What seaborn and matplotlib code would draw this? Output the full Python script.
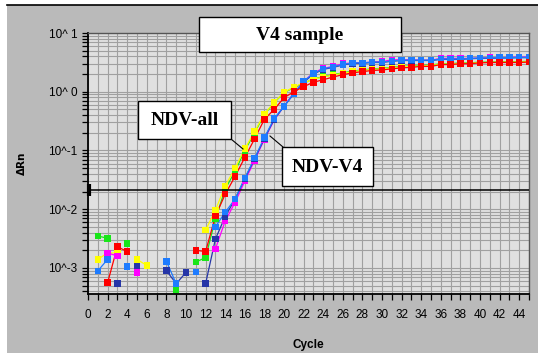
import numpy as np
import pandas as pd
import matplotlib
matplotlib.use("Agg")
import matplotlib.pyplot as plt
import matplotlib.ticker as mticker
from matplotlib.patches import Rectangle
from matplotlib.lines import Line2D
import seaborn as sns

nan = np.nan
cycles = list(range(1, 46))

green = [3.5e-3, 3.2e-3, nan, 2.6e-3, nan, nan, nan, nan, 4.2e-4, nan,
         1.26e-3, 1.5e-3, 6.8e-3, 0.022, 0.044, 0.10, 0.20, 0.41, 0.65, 0.97,
         1.17, 1.4, 1.65, 1.8, 1.95, 2.1, 2.25, 2.35, 2.45, 2.5,
         2.6, 2.7, 2.75, 2.8, 2.85, 3.0, 3.0, 3.1, 3.1, 3.2,
         3.2, 3.25, 3.25, 3.25, 3.3]
yellow = [1.4e-3, 1.8e-3, 1.8e-3, nan, 1.4e-3, 1.1e-3, nan, nan, nan, nan,
          nan, 4.4e-3, 9.6e-3, 0.025, 0.05, 0.107, 0.21, 0.42, 0.66, 0.98,
          1.2, 1.42, 1.62, 1.78, 1.92, 2.05, 2.2, 2.3, 2.4, 2.45,
          2.55, 2.65, 2.7, 2.75, 2.8, 2.95, 2.95, 3.05, 3.05, 3.15,
          3.15, 3.2, 3.2, 3.2, 3.25]
red = [nan, 5.6e-4, 2.3e-3, 1.9e-3, nan, nan, nan, nan, nan, nan,
       2.0e-3, 1.9e-3, 7.6e-3, 0.018, 0.036, 0.076, 0.158, 0.34, 0.5, 0.79,
       1.0, 1.22, 1.45, 1.6, 1.78, 1.95, 2.1, 2.2, 2.3, 2.35,
       2.45, 2.55, 2.6, 2.7, 2.7, 2.9, 2.9, 3.0, 3.0, 3.1,
       3.15, 3.15, 3.15, 3.15, 3.2]
magenta = [nan, 1.8e-3, 1.6e-3, nan, 8.3e-4, nan, nan, nan, nan, nan,
           nan, nan, 2.1e-3, 6.3e-3, 0.013, 0.03, 0.068, 0.155, 0.33, 0.57,
           0.95, 1.5, 2.1, 2.5, 2.7, 3.0, 3.1, 3.1, 3.2, 3.25,
           3.5, 3.5, 3.5, 3.45, 3.45, 3.7, 3.7, 3.7, 3.7, 3.75,
           3.8, 3.8, 3.85, 3.9, 3.9]
darkblue = [nan, nan, 5.4e-4, nan, 1.07e-3, nan, nan, 9.0e-4, 5.4e-4, 8.4e-4,
            nan, 5.4e-4, 3.1e-3, 7.5e-3, 0.0148, 0.033, 0.072, 0.16, 0.34, 0.56,
            0.92, 1.45, 2.0, 2.4, 2.6, 2.85, 3.05, 3.05, 3.15, 3.15,
            3.3, 3.4, 3.4, 3.4, 3.4, 3.55, 3.55, 3.55, 3.65, 3.7,
            3.7, 3.75, 3.75, 3.8, 3.8]
blue = [8.9e-4, 1.4e-3, nan, 1.05e-3, nan, nan, nan, 1.3e-3, 5.4e-4, nan,
        8.6e-4, nan, 5.0e-3, 8.9e-3, 0.0148, 0.034, 0.074, 0.166, 0.35, 0.56,
        0.93, 1.5, 2.05, 2.45, 2.65, 2.9, 3.1, 3.1, 3.2, 3.2,
        3.35, 3.45, 3.45, 3.45, 3.45, 3.6, 3.6, 3.6, 3.7, 3.75,
        3.75, 3.8, 3.8, 3.85, 3.85]

series_names = ["green", "yellow", "magenta", "darkblue", "blue", "red"]
series_values = [green, yellow, magenta, darkblue, blue, red]
palette = {"green": "#19e619", "yellow": "#ffff00", "red": "#ff0000",
           "magenta": "#ff00ff", "blue": "#1e7cff", "darkblue": "#2636a8"}

threshold = 0.021
ytick_labels = ["10^-3", "10^-2", "10^-1", "10^ 0", "10^ 1"]

rows = []
for name, vals in zip(series_names, series_values):
    seg = 0
    prev_ok = False
    for c, v in zip(cycles, vals):
        if np.isnan(v):
            prev_ok = False
            continue
        if not prev_ok:
            seg += 1
        rows.append({"cycle": c, "value": v, "series": name, "seg": f"{name}_{seg}"})
        prev_ok = True
df = pd.DataFrame(rows)

W, H = 538, 353
fig = plt.figure(figsize=(W / 100, H / 100), dpi=100)
fig.patch.set_facecolor("white")

def fx(x):
    return x / W

def fy(y):
    return 1 - y / H

# gray panel
fig.add_artist(Rectangle((fx(7), 0), 1 - fx(7), fy(5), transform=fig.transFigure,
                         facecolor="#bababa", edgecolor="none", zorder=-2))
fig.add_artist(Line2D([fx(7), 1], [fy(5), fy(5)], transform=fig.transFigure,
                      color="black", lw=1.2, zorder=-1))

ax = fig.add_axes([fx(88), fy(294), fx(529) - fx(88), fy(33) - fy(294)])
ax.set_facecolor("#e0e0e0")
ax.set_yscale("log")
ax.set_xlim(0, 45)
ax.set_ylim(3.6e-4, 10)

ax.xaxis.set_major_locator(mticker.MultipleLocator(2))
ax.xaxis.set_minor_locator(mticker.MultipleLocator(1))
ax.yaxis.set_major_locator(mticker.FixedLocator([1e-3, 1e-2, 1e-1, 1, 10]))
ax.yaxis.set_major_formatter(mticker.FixedFormatter(ytick_labels))
ax.yaxis.set_minor_locator(mticker.LogLocator(base=10, subs=np.arange(2, 10)))
ax.yaxis.set_minor_formatter(mticker.NullFormatter())

ax.grid(which="both", color="#a0a0a0", lw=0.8)
ax.set_axisbelow(True)

sns.lineplot(data=df, x="cycle", y="value", hue="series", units="seg",
             estimator=None, hue_order=series_names, palette=palette,
             legend=False, lw=0.9, ax=ax, zorder=3)
sns.scatterplot(data=df, x="cycle", y="value", hue="series",
                hue_order=series_names, palette=palette, marker="s", s=22,
                linewidth=0, legend=False, ax=ax, zorder=4, clip_on=True)

ax.axhline(threshold, color="black", lw=1.1, zorder=5)
ax.plot([0.15], [threshold], marker="|", ms=9, mew=3, color="black",
        clip_on=False, zorder=6)

for side in ["left", "bottom"]:
    ax.spines[side].set_color("black")
    ax.spines[side].set_linewidth(1.3)
for side in ["top", "right"]:
    ax.spines[side].set_color("#555555")
    ax.spines[side].set_linewidth(1.0)

ax.tick_params(which="both", direction="out", length=4.5, width=0.9,
               color="black", labelsize=8.5, pad=3)
ax.tick_params(axis="x", which="both", pad=6)
for lab in ax.get_xticklabels() + ax.get_yticklabels():
    lab.set_family("Liberation Sans")

ax.set_xlabel("")
ax.set_ylabel("")
fig.text(fx(308), fy(345), "Cycle", ha="center", va="center", fontsize=8.5,
         fontweight="bold", family="Liberation Sans")
fig.text(fx(22), fy(163), "ΔRn", ha="center", va="center", fontsize=7.5,
         fontweight="bold", family="DejaVu Sans", rotation=90)

def box(x0, y0, x1, y1, text, size):
    fig.add_artist(Rectangle((fx(x0), fy(y1)), fx(x1) - fx(x0), fy(y0) - fy(y1),
                             transform=fig.transFigure, facecolor="white",
                             edgecolor="black", lw=1.0, zorder=20))
    fig.text(fx((x0 + x1) / 2), fy((y0 + y1) / 2 + 1), text, ha="center",
             va="center", fontsize=size, fontweight="bold",
             family="Liberation Serif", zorder=21)

def leader(x0, y0, x1, y1):
    fig.add_artist(Line2D([fx(x0), fx(x1)], [fy(y0), fy(y1)],
                          transform=fig.transFigure, color="black", lw=0.8,
                          zorder=19))

leader(231, 139, 243, 149)
leader(283, 147, 270, 136)
box(199, 17, 401, 52, "V4 sample", 14)
box(138, 101, 231, 139, "NDV-all", 14)
box(282, 147, 373, 186, "NDV-V4", 14)

fig.savefig("out.png", dpi=100)
